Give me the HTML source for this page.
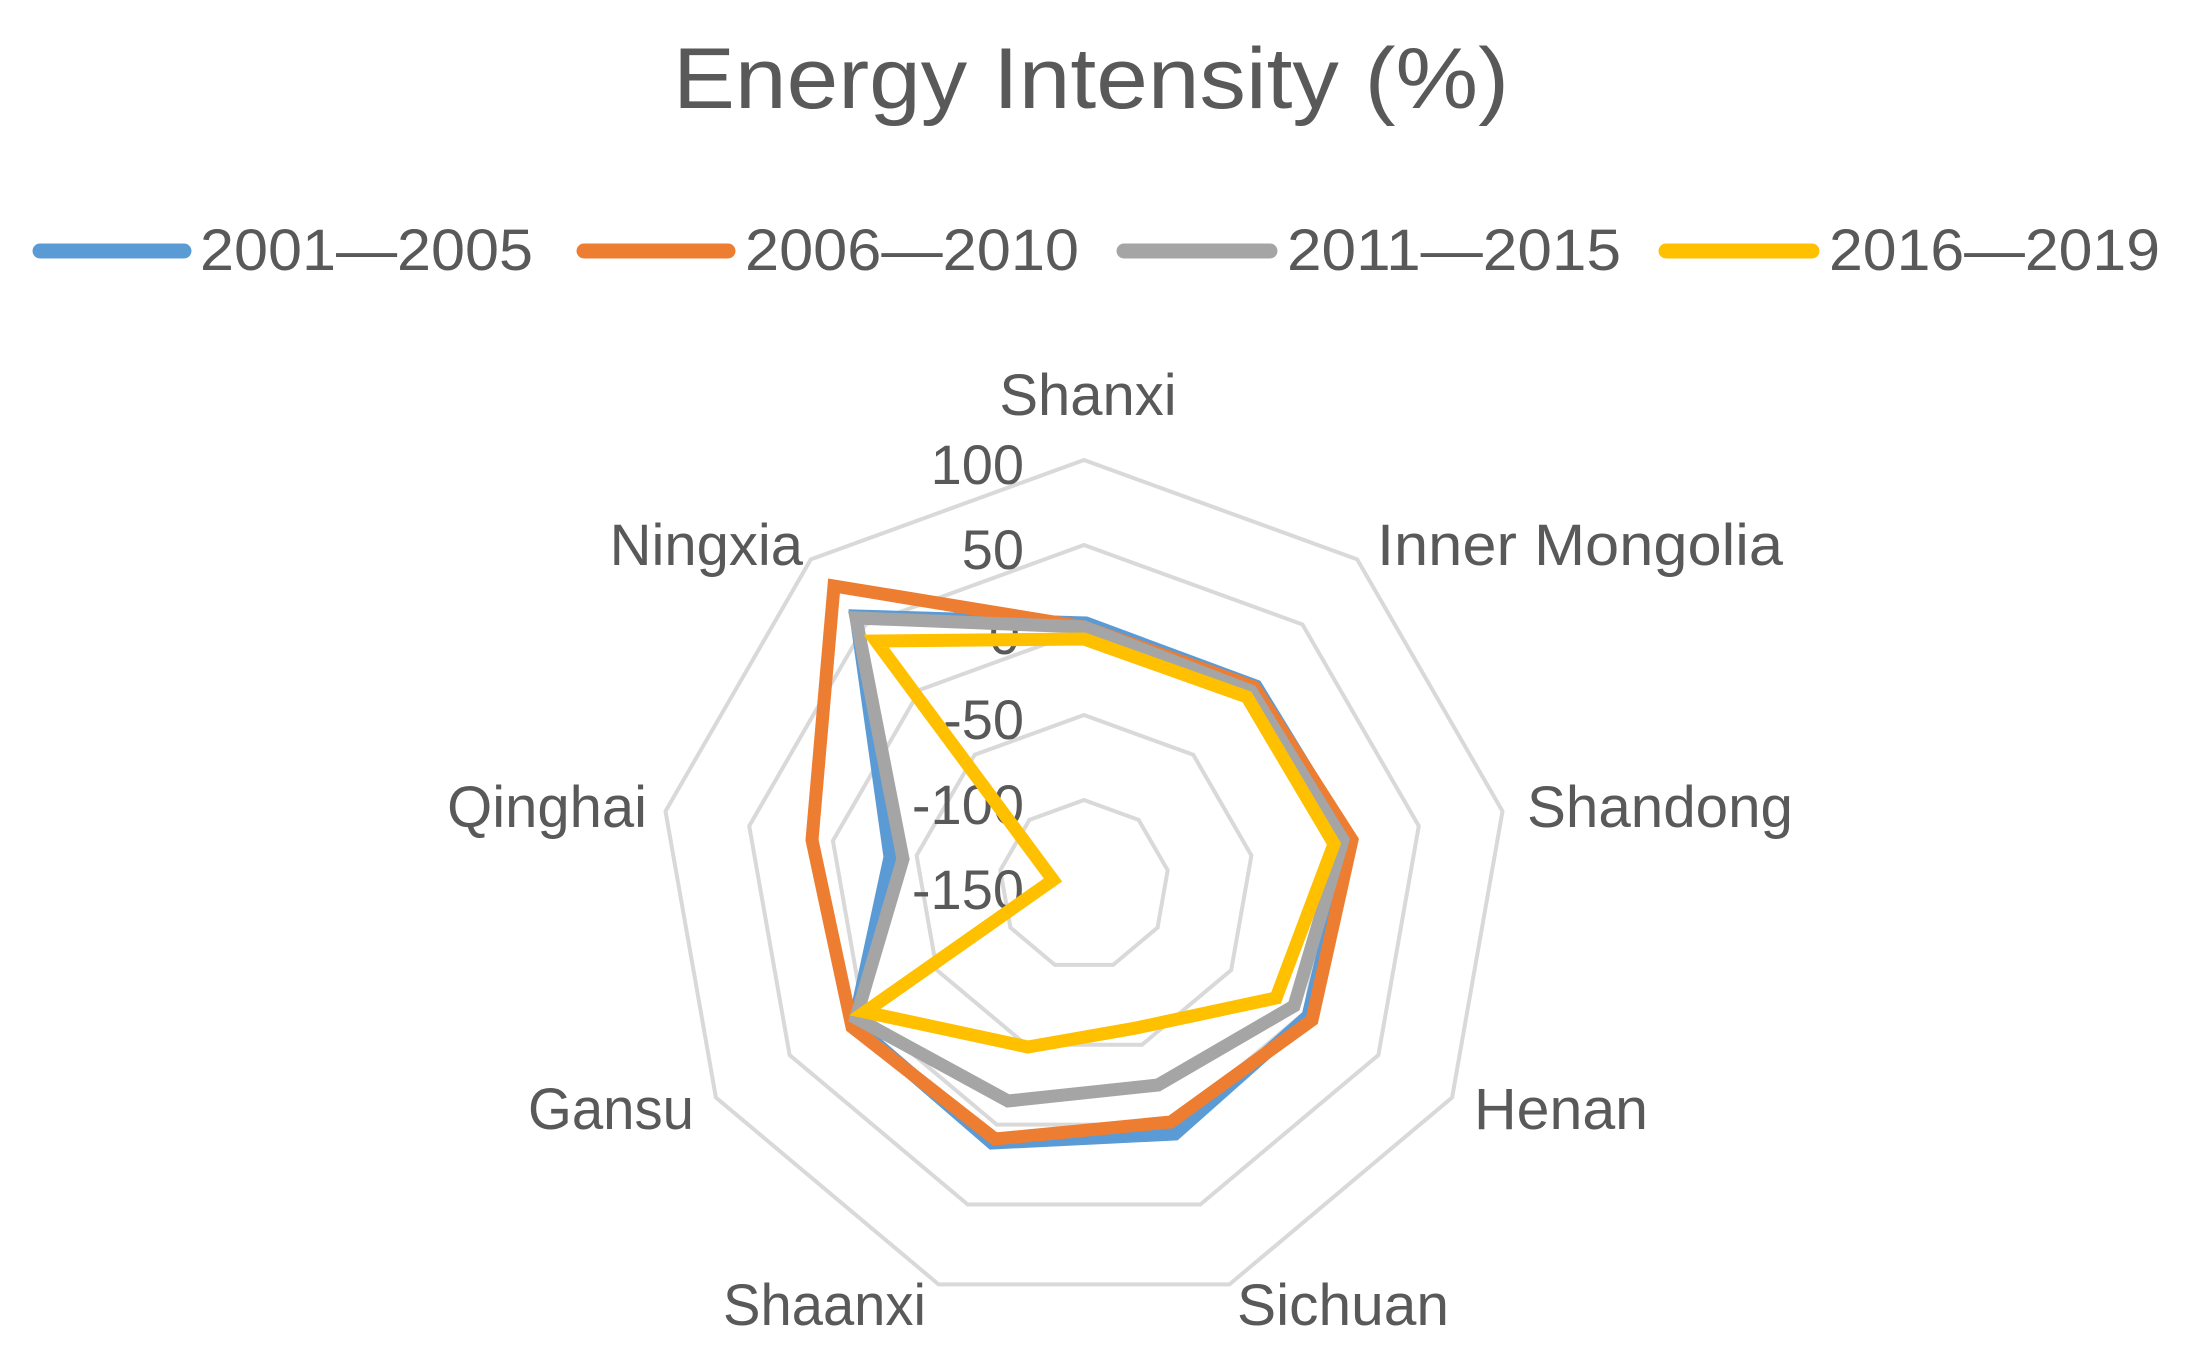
<!DOCTYPE html>
<html><head><meta charset="utf-8"><style>
html,body{margin:0;padding:0;background:#fff;}
svg{display:block;}
text{font-family:"Liberation Sans",sans-serif;fill:#595959;}
</style></head><body>
<svg id="s" width="2204" height="1365" viewBox="0 0 2204 1365" xmlns="http://www.w3.org/2000/svg">
<rect width="2204" height="1365" fill="#fff"/>
<text x="673" y="108" font-size="86" textLength="836" lengthAdjust="spacingAndGlyphs">Energy Intensity (%)</text>
<g stroke-width="15" stroke-linecap="round">
<line x1="40" y1="251" x2="184" y2="251" stroke="#5B9BD5"/>
<line x1="584" y1="251" x2="728" y2="251" stroke="#ED7D31"/>
<line x1="1124" y1="251" x2="1270" y2="251" stroke="#A5A5A5"/>
<line x1="1666" y1="251" x2="1812" y2="251" stroke="#FFC000"/>
</g>
<g font-size="58">
<text x="200" y="270" textLength="333" lengthAdjust="spacingAndGlyphs">2001—2005</text>
<text x="745" y="270" textLength="334" lengthAdjust="spacingAndGlyphs">2006—2010</text>
<text x="1287" y="270" textLength="334" lengthAdjust="spacingAndGlyphs">2011—2015</text>
<text x="1829" y="270" textLength="331" lengthAdjust="spacingAndGlyphs">2016—2019</text>
</g>
<g id="rings" fill="none" stroke="#d9d9d9" stroke-width="4"></g>
<g font-size="56" text-anchor="end">
<text x="1024" y="484">100</text>
<text x="1024" y="569">50</text>
<text x="1020" y="654">0</text>
<text x="1024" y="739">-50</text>
<text x="1024" y="824">-100</text>
<text x="1024" y="909">-150</text>
</g>
<g fill="none" stroke-width="13" stroke-linejoin="miter">
<polygon stroke="#5B9BD5" points="1086,623 1256,686 1350,840 1308,1016 1175,1134 992,1143 854,1024 890,857 856,616"/>
<polygon stroke="#ED7D31" points="1084,627 1254,687 1352,840 1312,1020 1171,1122 995,1139 852,1027 812,840 834,586"/>
<polygon stroke="#A5A5A5" points="1084,627 1251,691 1343,840 1294,1006 1158,1085 1008,1101 856,1018 903,859 856,618"/>
<polygon stroke="#FFC000" points="1084,639 1247,697 1334,844 1276,998 1136,1028 1028,1047 865,1012 1053,880 876,641"/>
</g>
<g font-size="58">
<text x="1088" y="415" text-anchor="middle">Shanxi</text>
<text x="1377" y="565" textLength="406" lengthAdjust="spacingAndGlyphs">Inner Mongolia</text>
<text x="1527" y="827" textLength="266" lengthAdjust="spacingAndGlyphs">Shandong</text>
<text x="1474" y="1129" textLength="174" lengthAdjust="spacingAndGlyphs">Henan</text>
<text x="1237" y="1325" textLength="212" lengthAdjust="spacingAndGlyphs">Sichuan</text>
<text x="723" y="1325" textLength="203" lengthAdjust="spacingAndGlyphs">Shaanxi</text>
<text x="528" y="1129" textLength="166" lengthAdjust="spacingAndGlyphs">Gansu</text>
<text x="647" y="827" text-anchor="end">Qinghai</text>
<text x="803" y="565" text-anchor="end">Ningxia</text>
</g>
</svg>
<script>
(function(){
var g=document.getElementById('rings'),cx=1084,cy=885,ns='http://www.w3.org/2000/svg';
for(var k=1;k<=5;k++){var r=85*k,p=[];
for(var i=0;i<9;i++){var a=i*40*Math.PI/180;p.push((cx+r*Math.sin(a)).toFixed(1)+','+(cy-r*Math.cos(a)).toFixed(1));}
var e=document.createElementNS(ns,'polygon');e.setAttribute('points',p.join(' '));g.appendChild(e);}
})();
</script>
</body></html>
